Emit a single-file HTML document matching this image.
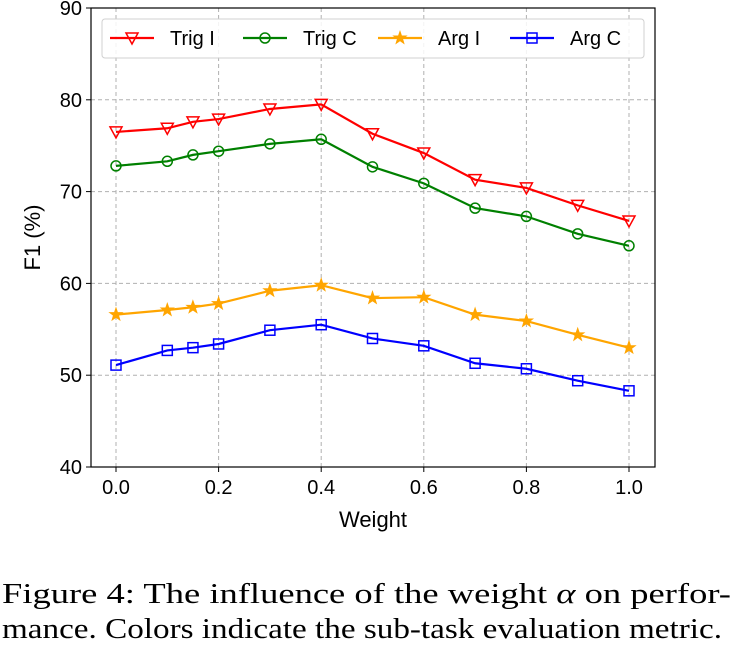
<!DOCTYPE html>
<html><head><meta charset="utf-8"><style>
body{margin:0;background:#fff;width:735px;height:649px;overflow:hidden}
</style></head><body>
<svg id="chart" width="735" height="560" style="position:absolute;left:0;top:0" font-family="Liberation Sans, sans-serif"></svg>
<svg width="735" height="89" style="position:absolute;left:0;top:560px" font-family="Liberation Serif, serif" font-size="28">
<text x="2" y="43" textLength="729" lengthAdjust="spacingAndGlyphs">Figure 4:  The influence of the weight <tspan font-style="italic">α</tspan> on perfor-</text>
<text x="2" y="78" textLength="720" lengthAdjust="spacingAndGlyphs">mance. Colors indicate the sub-task evaluation metric.</text>
</svg>
<script>
const weights=[0,0.1,0.15,0.2,0.3,0.4,0.5,0.6,0.7,0.8,0.9,1.0];
const trigI=[76.5,76.9,77.6,77.9,79.0,79.5,76.3,74.2,71.3,70.4,68.5,66.8];
const trigC=[72.8,73.3,74.0,74.4,75.2,75.7,72.7,70.9,68.2,67.3,65.4,64.1];
const argI=[56.6,57.1,57.4,57.8,59.2,59.8,58.4,58.5,56.6,55.9,54.4,53.0];
const argC=[51.1,52.7,53.0,53.4,54.9,55.5,54.0,53.2,51.3,50.7,49.4,48.3];
const xTicks=[0,0.2,0.4,0.6,0.8,1.0];
const yTicks=[40,50,60,70,80,90];
const names=["Trig I","Trig C","Arg I","Arg C"];
const svg=document.getElementById('chart');const NS='http://www.w3.org/2000/svg';
const L=91,R=655,T=8,B=467;
const xs=v=>116+v*513, ys=v=>B-(v-40)*(B-T)/50;
function el(t,a,p){const e=document.createElementNS(NS,t);for(const k in a)e.setAttribute(k,a[k]);(p||svg).appendChild(e);return e;}
xTicks.forEach(v=>{const g=el('line',{x1:xs(v),x2:xs(v),y1:T,y2:B,stroke:'#b0b0b0','stroke-dasharray':'4,3'});

el('line',{x1:xs(v),x2:xs(v),y1:B,y2:B+5,stroke:'#000'});
const t=el('text',{x:xs(v),y:B+27,'text-anchor':'middle','font-size':'20'});t.textContent=v.toFixed(1);
});
yTicks.forEach(v=>{const g=el('line',{x1:L,x2:R,y1:ys(v),y2:ys(v),stroke:'#b0b0b0','stroke-dasharray':'4,3'});

el('line',{x1:L-5,x2:L,y1:ys(v),y2:ys(v),stroke:'#000'});
const t=el('text',{x:L-9,y:ys(v)+7,'text-anchor':'end','font-size':'20'});t.textContent=v;
});
const fr=el('rect',{x:L,y:T,width:R-L,height:B-T,fill:'none',stroke:'#000','stroke-width':1.2});

let t=el('text',{x:(L+R)/2,y:527,'text-anchor':'middle','font-size':'22'});t.textContent='Weight';

t=el('text',{x:0,y:0,'text-anchor':'middle','font-size':'22',transform:`translate(40,${(T+B)/2}) rotate(-90)`});t.textContent='F1 (%)';

const series=[trigI,trigC,argI,argC],cols=['#ff0000','#008000','#ffa500','#0000ff'],mk=['tri','circ','star','sq'];
function marker(type,x,y,c,p){
 if(type==='tri')return el('polygon',{points:`${x-6},${y-5} ${x+6},${y-5} ${x},${y+6}`,fill:'none',stroke:c,'stroke-width':1.5},p);
 if(type==='circ')return el('circle',{cx:x,cy:y,r:5,fill:'none',stroke:c,'stroke-width':1.5},p);
 if(type==='sq')return el('rect',{x:x-5,y:y-5,width:10,height:10,fill:'none',stroke:c,'stroke-width':1.5},p);
 let pts=[];for(let i=0;i<10;i++){const r=i%2?2.6:6.5,a=-Math.PI/2+i*Math.PI/5;pts.push((x+r*Math.cos(a)).toFixed(1)+','+(y+r*Math.sin(a)).toFixed(1));}
 return el('polygon',{points:pts.join(' '),fill:c,stroke:c},p);}
series.forEach((s,i)=>{const g=el('g',{});
 el('polyline',{points:s.map((v,j)=>xs(weights[j])+','+ys(v)).join(' '),fill:'none',stroke:cols[i],'stroke-width':2.2},g);
 s.forEach((v,j)=>{const m=marker(mk[i],xs(weights[j]),ys(v),cols[i],g);});});
const lg=el('g',{});
el('rect',{x:102,y:19,width:542,height:39,rx:3,fill:'#fff','fill-opacity':0.85,stroke:'#d0d0d0'},lg);
const lx=[110,243,378,510];
names.forEach((n,i)=>{const e=el('g',{},lg);
 el('line',{x1:lx[i],x2:lx[i]+44,y1:38,y2:38,stroke:cols[i],'stroke-width':2.2},e);marker(mk[i],lx[i]+22,38,cols[i],e);
 const tt=el('text',{x:lx[i]+60,y:45,'font-size':'20'},e);tt.textContent=n;});
</script>
</body></html>
